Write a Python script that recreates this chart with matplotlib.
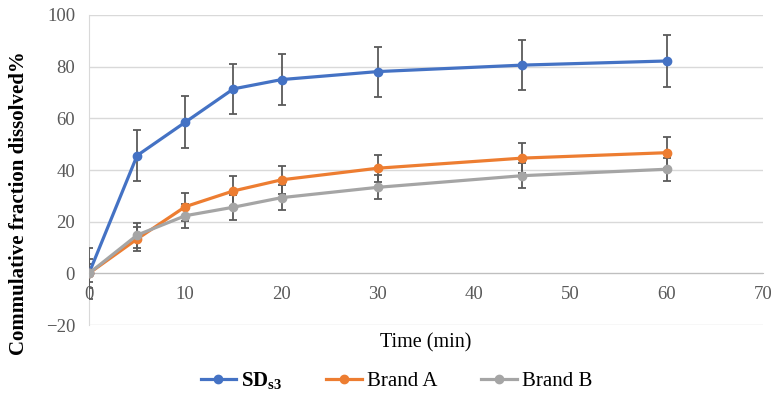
"""
Dissolution profile: SDs3 vs two commercial brands
"""
import matplotlib
matplotlib.use('Agg')
import matplotlib.pyplot as plt
from matplotlib.lines import Line2D

time_min = [0, 5, 10, 15, 20, 30, 45, 60]

sd_s3 = [0, 45.6, 58.5, 71.4, 75.0, 78.1, 80.6, 82.2]
sd_s3_err = [9.8, 9.9, 10.0, 9.7, 9.8, 9.7, 9.8, 10.0]

brand_a = [0, 13.3, 25.8, 31.9, 36.2, 40.7, 44.6, 46.7]
brand_a_err = [5.5, 4.8, 5.4, 5.9, 5.4, 5.3, 5.8, 6.0]

brand_b = [0, 14.8, 22.3, 25.6, 29.3, 33.3, 37.8, 40.3]
brand_b_err = [3.5, 4.8, 4.6, 4.9, 4.8, 4.6, 4.9, 4.5]

series = [
    (r'$\mathbf{SD}_{\mathbf{s3}}$', sd_s3, sd_s3_err, '#4472C4'),
    ('Brand A', brand_a, brand_a_err, '#ED7D31'),
    ('Brand B', brand_b, brand_b_err, '#A5A5A5'),
]

x_ticks = [0, 10, 20, 30, 40, 50, 60, 70]
y_ticks = [-20, 0, 20, 40, 60, 80, 100]

plt.rcParams['font.family'] = ['Liberation Serif', 'DejaVu Serif']
plt.rcParams['mathtext.fontset'] = 'custom'
plt.rcParams['mathtext.rm'] = 'Liberation Serif'
plt.rcParams['mathtext.bf'] = 'Liberation Serif:bold'

fig = plt.figure(figsize=(7.71, 4.01), dpi=100)
ax = fig.add_axes([0.1154, 0.1895, 0.8742, 0.7731])

handles = []
for label, vals, errs, color in series:
    ax.errorbar(time_min, vals, yerr=errs, color=color, linewidth=2.3,
                marker='o', markersize=6, ecolor='#5A5A5A', elinewidth=1.3,
                capsize=3, capthick=1.3, zorder=3)
    handles.append(Line2D([], [], color=color, linewidth=2.3, marker='o',
                          markersize=6, label=label))

ax.set_xlim(0, 70)
ax.set_ylim(-20, 100)
ax.set_xticks(x_ticks)
ax.set_yticks(y_ticks)
ax.grid(axis='y', color='#D9D9D9', linewidth=1)
ax.set_axisbelow(True)

for side in ['top', 'right']:
    ax.spines[side].set_visible(False)
ax.spines['bottom'].set_position(('data', 0))
ax.spines['bottom'].set_color('#BFBFBF')
ax.spines['left'].set_color('#D9D9D9')
ax.tick_params(length=0, labelsize=13.5, labelcolor='#595959')
ax.tick_params(axis='y', pad=10)
ax.tick_params(axis='x', pad=9)

fig.text(0.5525, 0.145, 'Time (min)', fontsize=14.5, ha='center', va='center')
fig.text(0.025, 0.494, 'Commulative fraction dissolved%', fontsize=15,
         fontweight='bold', rotation=90, ha='center', va='center')

fig.legend(handles=handles, loc='center', bbox_to_anchor=(0.514, 0.05),
           ncol=3, frameon=False, fontsize=15, handlelength=1.7,
           columnspacing=2.1, handletextpad=0.25)

fig.savefig('out.png', dpi=100)
